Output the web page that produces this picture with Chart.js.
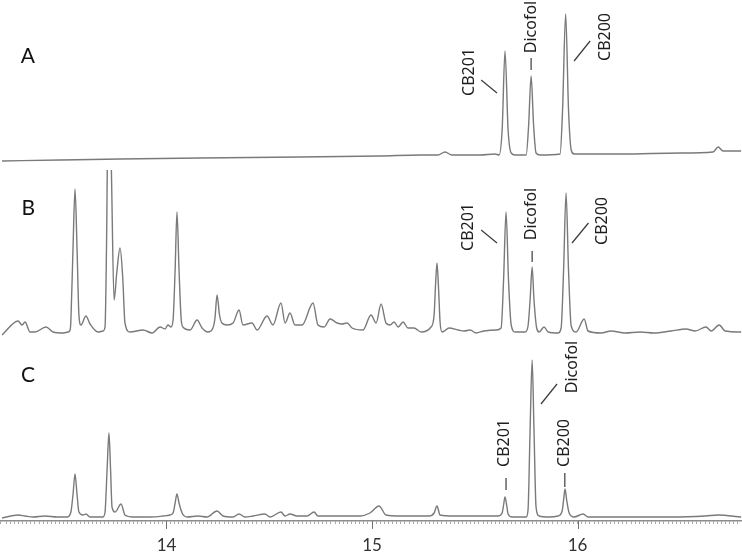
<!DOCTYPE html>
<html>
<head>
<meta charset="utf-8">
<script src="https://cdn.jsdelivr.net/npm/chart.js@4"></script>
<style>
  html, body { margin: 0; padding: 0; background: #fff; }
</style>
</head>
<body>
<canvas id="chromChart" width="742" height="552"></canvas>
<script>
// Retention time (min) and detector response for each trace
const timesA = [13.200, 13.482, 13.774, 14.163, 14.650, 15.039, 15.234, 15.321, 15.355, 15.389,
  15.526, 15.599, 15.618, 15.633, 15.647, 15.662, 15.677, 15.696, 15.750, 15.762,
  15.774, 15.786, 15.798, 15.818, 15.915, 15.927, 15.942, 15.956, 15.969, 15.983,
  16.012, 16.207, 16.499, 16.659, 16.684, 16.708, 16.796];
const signalA = [-1, 0, 1, 2, 3, 4, 5, 5, 8, 5,
  5, 6, 5, 30, 109, 30, 7, 5, 5, 35,
  84, 35, 7, 5, 6, 50, 146, 50, 10, 6,
  6, 6, 7, 8, 13, 9, 9];

const timesB = [13.200, 13.278, 13.297, 13.312, 13.336, 13.360, 13.414, 13.448, 13.497, 13.521,
  13.531, 13.535, 13.545, 13.555, 13.565, 13.574, 13.584, 13.608, 13.628, 13.667,
  13.691, 13.701, 13.708, 13.720, 13.733, 13.745, 13.758, 13.774, 13.787, 13.798,
  13.823, 13.886, 13.930, 13.969, 13.993, 14.007, 14.022, 14.032, 14.042, 14.051,
  14.061, 14.071, 14.080, 14.115, 14.149, 14.173, 14.202, 14.226, 14.236, 14.246,
  14.258, 14.270, 14.295, 14.324, 14.353, 14.372, 14.416, 14.441, 14.489, 14.518,
  14.557, 14.577, 14.601, 14.625, 14.660, 14.713, 14.737, 14.767, 14.796, 14.830,
  14.854, 14.879, 14.903, 14.956, 14.995, 15.020, 15.044, 15.068, 15.088, 15.107,
  15.127, 15.151, 15.175, 15.204, 15.239, 15.287, 15.302, 15.309, 15.316, 15.324,
  15.331, 15.341, 15.375, 15.419, 15.448, 15.477, 15.506, 15.545, 15.604, 15.628,
  15.640, 15.652, 15.664, 15.677, 15.696, 15.745, 15.759, 15.769, 15.779, 15.788,
  15.801, 15.813, 15.837, 15.857, 15.905, 15.920, 15.932, 15.944, 15.956, 15.969,
  15.993, 16.032, 16.051, 16.114, 16.163, 16.231, 16.304, 16.372, 16.455, 16.528,
  16.572, 16.625, 16.650, 16.689, 16.718, 16.796];
const signalB = [-3, 11, 7, 10, 0, 0, 5, 0, -1, 0,
  2, 12, 82, 143, 82, 17, 7, 16, 8, 0,
  1, 5, 82, 300, 150, 32, 59, 84, 55, 9,
  0, 2, -1, 5, 3, 7, 5, 12, 62, 120,
  62, 14, 5, 2, 12, 4, 0, 4, 14, 37,
  17, 9, 7, 9, 22, 7, 9, 2, 16, 7,
  29, 9, 19, 7, 7, 29, 7, 5, 13, 9,
  8, 9, 4, 2, 17, 9, 28, 9, 7, 10,
  5, 10, 4, 4, 0, 5, 17, 47, 69, 42,
  10, 0, 4, 2, 1, 2, -1, 1, 2, 4,
  52, 120, 52, 7, 0, 0, 6, 32, 65, 32,
  4, 0, 5, 0, -1, 4, 62, 139, 62, 6,
  0, 13, 1, -1, 1, -1, 0, -1, 1, 3,
  1, 5, 1, 7, 1, 0];

const timesC = [13.200, 13.278, 13.312, 13.351, 13.409, 13.467, 13.516, 13.535, 13.545, 13.555,
  13.565, 13.574, 13.594, 13.608, 13.628, 13.691, 13.701, 13.711, 13.720, 13.728,
  13.735, 13.750, 13.779, 13.798, 13.837, 13.920, 13.983, 14.017, 14.032, 14.042,
  14.051, 14.061, 14.076, 14.100, 14.153, 14.197, 14.246, 14.275, 14.324, 14.353,
  14.382, 14.421, 14.479, 14.504, 14.557, 14.577, 14.601, 14.635, 14.684, 14.718,
  14.737, 14.810, 14.879, 14.942, 14.990, 15.034, 15.068, 15.136, 15.204, 15.278,
  15.302, 15.316, 15.331, 15.399, 15.482, 15.613, 15.633, 15.640, 15.647, 15.655,
  15.662, 15.681, 15.750, 15.759, 15.769, 15.779, 15.788, 15.798, 15.813, 15.861,
  15.905, 15.925, 15.932, 15.939, 15.947, 15.959, 15.983, 16.027, 16.051, 16.134,
  16.294, 16.455, 16.621, 16.684, 16.796];
const signalC = [-1, 2, 1, 0, 1, 0, 0, 5, 22, 43,
  22, 5, 2, 3, 0, 0, 5, 47, 84, 47,
  10, 5, 13, 2, 0, 0, 1, 2, 4, 14,
  23, 14, 4, 0, 1, 0, 6, 1, 0, 3,
  0, 1, 3, 0, 5, 1, 3, 1, 1, 5,
  1, 1, 1, 1, 4, 11, 2, 1, 1, 1,
  4, 11, 2, 1, 1, 1, 4, 12, 20, 12,
  3, 0, 0, 7, 87, 157, 87, 10, 1, 0,
  1, 6, 17, 28, 17, 4, 0, 3, 0, 0,
  0, 0, 1, 2, 0];

const xTickLabels = [14, 15, 16];

// Peak names: text centre (time, level) and the short leader line beside it
const peakLabels = [
  { axis: 'yA', text: 'CB201', t: 15.472, v: 88, line: [15.531, 80, 15.608, 67] },
  { axis: 'yA', text: 'Dicofol', t: 15.774, v: 133, line: [15.774, 102, 15.774, 90] },
  { axis: 'yA', text: 'CB200', t: 16.134, v: 123, line: [16.061, 119, 15.983, 99] },
  { axis: 'yB', text: 'CB201', t: 15.467, v: 105, line: [15.531, 102, 15.608, 89] },
  { axis: 'yB', text: 'Dicofol', t: 15.774, v: 118, line: [15.779, 81, 15.779, 70] },
  { axis: 'yB', text: 'CB200', t: 16.123, v: 111, line: [16.053, 109, 15.973, 89] },
  { axis: 'yC', text: 'CB201', t: 15.642, v: 74, line: [15.652, 39, 15.652, 27] },
  { axis: 'yC', text: 'Dicofol', t: 15.973, v: 150, line: [15.900, 133, 15.822, 113] },
  { axis: 'yC', text: 'CB200', t: 15.934, v: 74, line: [15.938, 44, 15.938, 30] }
];
const panelLetters = [
  { axis: 'yA', text: 'A', t: 13.326, v: 104 },
  { axis: 'yB', text: 'B', t: 13.328, v: 124 },
  { axis: 'yC', text: 'C', t: 13.326, v: 142 }
];

const toPoints = (times, values) => times.map((t, i) => ({ x: t, y: values[i] }));

// keep each trace inside its own band (the big B peak runs off the top)
const panelClip = {
  id: 'panelClip',
  beforeDatasetDraw(chart, args) {
    const yScale = chart.scales[args.meta.yAxisID];
    const area = chart.chartArea;
    const ctx = chart.ctx;
    ctx.save();
    ctx.beginPath();
    ctx.rect(area.left, yScale.top, area.right - area.left, yScale.bottom - yScale.top);
    ctx.clip();
  },
  afterDatasetDraw(chart) {
    chart.ctx.restore();
  }
};

const peakNotes = {
  id: 'peakNotes',
  afterDraw(chart) {
    const ctx = chart.ctx;
    const xs = chart.scales.x;
    ctx.save();

    // longer ticks at whole minutes
    ctx.strokeStyle = '#707070';
    ctx.lineWidth = 1;
    xTickLabels.forEach(v => {
      const px = Math.round(xs.getPixelForValue(v)) + 0.5;
      ctx.beginPath();
      ctx.moveTo(px, xs.top);
      ctx.lineTo(px, xs.top + 8);
      ctx.stroke();
    });

    // leader lines
    ctx.strokeStyle = '#3a3a3a';
    ctx.lineWidth = 1.2;
    peakLabels.forEach(p => {
      const ys = chart.scales[p.axis];
      ctx.beginPath();
      ctx.moveTo(xs.getPixelForValue(p.line[0]), ys.getPixelForValue(p.line[1]));
      ctx.lineTo(xs.getPixelForValue(p.line[2]), ys.getPixelForValue(p.line[3]));
      ctx.stroke();
    });

    // rotated peak names
    ctx.fillStyle = '#1e1e1e';
    ctx.font = '16px "Noto Sans"';
    ctx.textAlign = 'center';
    ctx.textBaseline = 'middle';
    peakLabels.forEach(p => {
      const ys = chart.scales[p.axis];
      ctx.save();
      ctx.translate(xs.getPixelForValue(p.t), ys.getPixelForValue(p.v));
      ctx.rotate(-Math.PI / 2);
      ctx.fillText(p.text, 0, 0);
      ctx.restore();
    });

    // panel letters
    ctx.font = '21px Lato';
    ctx.fillStyle = '#111';
    panelLetters.forEach(p => {
      const ys = chart.scales[p.axis];
      ctx.fillText(p.text, xs.getPixelForValue(p.t), ys.getPixelForValue(p.v));
    });
    ctx.restore();
  }
};

const traceStyle = {
  borderColor: '#7a7a7a',
  borderWidth: 1.4,
  pointRadius: 0,
  pointHoverRadius: 0,
  cubicInterpolationMode: 'monotone',
  fill: false
};

const ctx = document.getElementById('chromChart').getContext('2d');
new Chart(ctx, {
  type: 'line',
  data: {
    datasets: [
      { label: 'A', data: toPoints(timesA, signalA), yAxisID: 'yA', ...traceStyle },
      { label: 'B', data: toPoints(timesB, signalB), yAxisID: 'yB', ...traceStyle },
      { label: 'C', data: toPoints(timesC, signalC), yAxisID: 'yC', ...traceStyle }
    ]
  },
  options: {
    responsive: false,
    animation: false,
    layout: { autoPadding: false, padding: 0 },
    plugins: {
      legend: { display: false },
      tooltip: { enabled: false }
    },
    scales: {
      x: {
        type: 'linear',
        position: 'bottom',
        min: 13.19,
        max: 16.8,
        afterFit(scale) {
          scale.height = 31;
          scale.paddingLeft = 0;
          scale.paddingRight = 0;
        },
        grid: { drawOnChartArea: false, drawTicks: true, tickLength: 3, color: '#a8a8a8', lineWidth: 1 },
        border: { display: true, color: '#8c8c8c', width: 1.5 },
        ticks: {
          stepSize: 0.02,
          autoSkip: false,
          maxRotation: 0,
          minRotation: 0,
          padding: 11,
          color: '#333',
          font: { family: 'Lato', size: 17 },
          callback: v => {
            const r = Math.round(v);
            return Math.abs(v - r) < 1e-6 && xTickLabels.includes(r) ? String(r) : '';
          }
        }
      },
      yA: { type: 'linear', position: 'left', display: false, min: -10, max: 160, stack: 'traces', stackWeight: 170, weight: 3 },
      yB: { type: 'linear', position: 'left', display: false, min: -13, max: 162, stack: 'traces', stackWeight: 175, weight: 2 },
      yC: { type: 'linear', position: 'left', display: false, min: -4, max: 172, stack: 'traces', stackWeight: 176, weight: 1 }
    }
  },
  plugins: [panelClip, peakNotes]
});
</script>
</body>
</html>
